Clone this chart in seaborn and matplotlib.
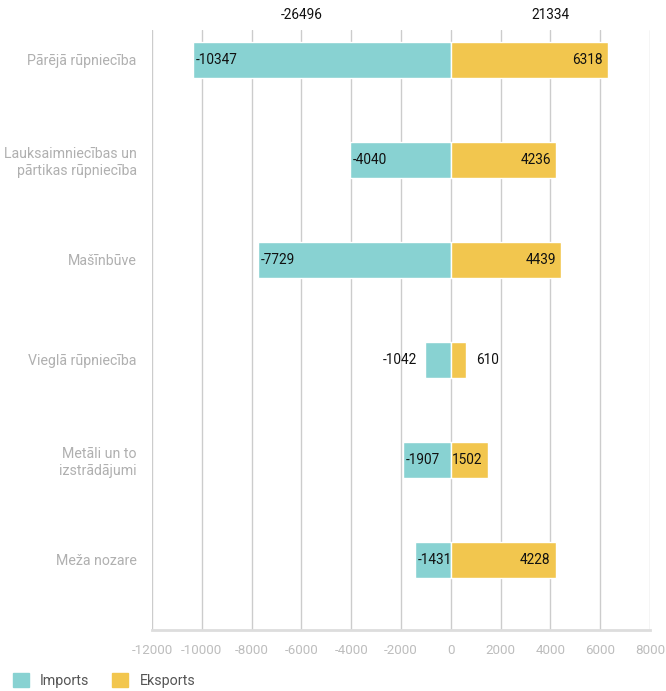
import pandas as pd
import numpy as np
import matplotlib
matplotlib.use('Agg')
import matplotlib.pyplot as plt
import seaborn as sns

# Data
categories = [
    'Pārējā rūpniecība',
    'Lauksaimniecības un\npārtikas rūpniecība',
    'Mašīnbūve',
    'Vieglā rūpniecība',
    'Metāli un to\nizstrādājumi',
    'Meža nozare',
]
imports = [-10347, -4040, -7729, -1042, -1907, -1431]
exports = [6318, 4236, 4439, 610, 1502, 4228]
series_names = ['Imports', 'Eksports']
totals = [-26496, 21334]
x_ticks = [-12000, -10000, -8000, -6000, -4000, -2000, 0, 2000, 4000, 6000, 8000]

colors = ['#88D2D2', '#F2C64E']

sns.set_theme(style='white')
plt.rcParams['font.family'] = ['Roboto', 'DejaVu Sans']

df = pd.DataFrame({
    'category': categories * 2,
    'value': imports + exports,
    'series': [series_names[0]] * len(categories) + [series_names[1]] * len(categories),
})

fig = plt.figure(figsize=(6.66, 6.91), dpi=100)
ax = fig.add_axes([0.2282, 0.0883, 0.7478, 0.8683])

sns.barplot(
    data=df, y='category', x='value', hue='series',
    dodge=False, palette=colors, width=0.36, orient='h',
    saturation=1, legend=False, ax=ax, zorder=3
)

ax.set_xlim(-12000, 8000)
ax.set_ylim(5.7, -0.3)
ax.set_xticks(x_ticks)
ax.set_xticklabels([str(t) for t in x_ticks])
ax.set_xlabel('')
ax.set_ylabel('')

# Grid and spines
ax.grid(axis='x', color='#cccccc', linewidth=1, zorder=0)
ax.grid(axis='y', visible=False)
for side in ['top', 'right', 'left']:
    ax.spines[side].set_visible(False)
ax.spines['bottom'].set_color('#dddddd')
ax.spines['bottom'].set_linewidth(2)

ax.tick_params(axis='x', colors='#bdbdbd', labelsize=9.6, length=0, pad=10)
ax.tick_params(axis='y', colors='#b0b0b0', labelsize=10.2, length=0, pad=11)
for lbl in ax.get_yticklabels():
    lbl.set_multialignment('right')

# Value labels
lab_kw = dict(textcoords='offset points', va='center', fontsize=9.8,
              color='#111111', zorder=5)
for i, (imp, exp) in enumerate(zip(imports, exports)):
    if abs(imp) > 1200:
        ax.annotate(str(imp), (imp, i), xytext=(2, 0), ha='left', **lab_kw)
    else:
        ax.annotate(str(imp), (imp, i), xytext=(-6, 0), ha='right', **lab_kw)
    if exp > 1200:
        ax.annotate(str(exp), (exp, i), xytext=(-4, 0), ha='right', **lab_kw)
    else:
        ax.annotate(str(exp), (exp, i), xytext=(7, 0), ha='left', **lab_kw)

# Totals above the chart, centred over each side of the axis
xmin, xmax = ax.get_xlim()
for total, xpos in zip(totals, [xmin / 2, xmax / 2]):
    ax.text(xpos, -0.45, str(total), ha='center', va='center',
            fontsize=9.8, color='#111111')

# Legend
handles = [plt.Rectangle((0, 0), 1, 1, color=c) for c in colors]
fig.legend(handles, series_names, loc='lower left', bbox_to_anchor=(0.0, -0.014),
           ncol=2, frameon=False, fontsize=10.3, labelcolor='#555555',
           handlelength=1.1, handleheight=1.1, handletextpad=0.8, columnspacing=1.6)

fig.savefig('out.png', dpi=100)
